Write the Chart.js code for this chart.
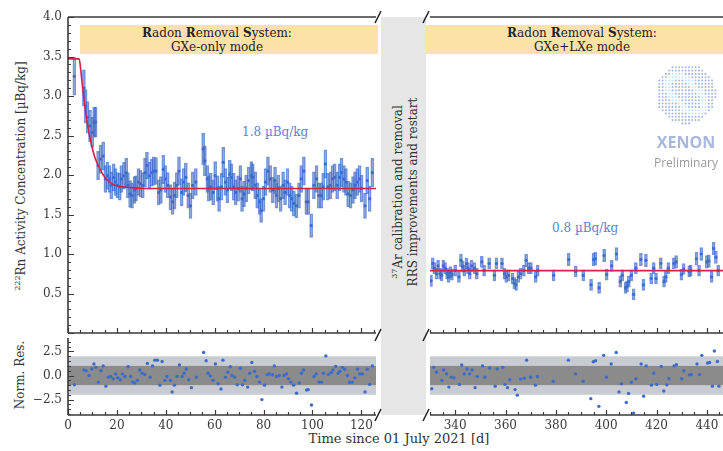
<!DOCTYPE html>
<html>
<head>
<meta charset="utf-8">
<script src="https://cdn.jsdelivr.net/npm/chart.js@4.4.0/dist/chart.umd.min.js"></script>
<style>
  body { margin: 0; background: #fff; width: 723px; height: 451px; overflow: hidden; position: relative; font-family: 'DejaVu Serif', serif; color: #333; }
  canvas { position: absolute; }
  .abs { position: absolute; white-space: nowrap; }
  .banner { position: absolute; background: #fde2a6; height: 29px; top: 25px; }
  .btxt { position: absolute; transform: translateX(-50%); text-align: center; font-size: 12px; line-height: 13.5px; top: 27px; color: #222; white-space: nowrap; }
  .rot { position: absolute; transform: translate(-50%, -50%) rotate(-90deg); white-space: nowrap; }
  sup { font-size: 8px; vertical-align: 5px; }
</style>
</head>
<body>
<div class="banner" style="left:80px;width:298px"></div>
<div class="banner" style="left:426px;width:297px"></div>
<div class="btxt" style="left:217px"><b>R</b>adon <b>R</b>emoval <b>S</b>ystem:<br>GXe-only mode</div>
<div class="btxt" style="left:582px"><b>R</b>adon <b>R</b>emoval <b>S</b>ystem:<br>GXe+LXe mode</div>
<div class="abs" style="left:381px;top:17px;width:45px;height:398px;background:#e6e6e6"></div>
<div class="rot" style="left:404px;top:192px;font-size:12px;line-height:15px;text-align:center;color:#333"><sup>37</sup>Ar calibration and removal<br>RRS improvements and restart</div>
<div class="rot" style="left:20px;top:176px;font-size:12px"><sup>222</sup>Rn Activity Concentration [µBq/kg]</div>
<div class="rot" style="left:20px;top:375px;font-size:12px">Norm. Res.</div>
<div class="abs" style="left:399px;top:431px;transform:translateX(-50%);font-size:13px">Time since 01 July 2021 [d]</div>
<div class="abs" style="left:242px;top:125px;font-size:12px;color:#5b82d4">1.8 µBq/kg</div>
<div class="abs" style="left:552px;top:221px;font-size:12px;color:#5b82d4">0.8 µBq/kg</div>

<canvas id="topLeft" width="380" height="337" style="left:0;top:0"></canvas>
<canvas id="topRight" width="310" height="337" style="left:426px;top:0"></canvas>
<canvas id="resLeft" width="380" height="117" style="left:0;top:334px"></canvas>
<canvas id="resRight" width="310" height="117" style="left:426px;top:334px"></canvas>
<canvas id="deco" width="723" height="451" style="left:0;top:0;pointer-events:none"></canvas>

<script>
// ---- GXe-only period (days 0-126) ----
const leftDays = [
  2.6, 6.5, 7.2, 8.0, 9.0, 9.9, 10.7, 11.3, 12.3, 13.3,
  14.4, 15.3, 16.1, 17.0, 17.7, 18.7, 19.4, 20.2, 21.2, 21.8,
  22.9, 23.8, 24.5, 25.4, 26.2, 27.2, 27.8, 28.8, 29.6, 30.6,
  31.5, 32.3, 33.3, 34.3, 35.1, 36.0, 37.1, 38.0, 39.0, 39.8,
  40.8, 41.9, 42.8, 43.6, 44.5, 45.4, 46.5, 47.3, 48.2, 49.2,
  50.1, 51.0, 52.3, 55.3, 56.0, 57.0, 57.6, 58.4, 59.4, 60.2,
  61.2, 61.8, 62.8, 63.5, 64.4, 65.2, 66.2, 66.8, 67.8, 68.6,
  69.6, 70.5, 71.2, 72.0, 72.9, 73.9, 75.0, 75.6, 76.6, 77.4,
  78.4, 79.0, 80.0, 80.8, 81.8, 82.7, 83.8, 84.7, 85.3, 86.1,
  87.0, 88.0, 88.8, 89.8, 90.7, 91.5, 92.4, 93.4, 94.5, 95.4,
  96.5, 97.5, 98.3, 99.5, 100.6, 101.7, 102.6, 103.6, 104.4, 105.3,
  106.3, 107.4, 108.2, 109.1, 110.1, 111.1, 111.9, 112.9, 113.7, 114.6,
  115.6, 116.6, 117.4, 118.3, 119.3, 120.1, 121.5, 122.4, 123.4, 124.5
];
const leftRn = [
  3.25, 3.10, 2.87, 2.73, 2.62, 2.54, 2.67, 2.67, 2.12, 2.20,
  2.24, 1.95, 1.99, 1.95, 1.87, 1.97, 1.91, 1.87, 1.85, 1.95,
  1.99, 2.03, 1.87, 1.76, 1.74, 1.81, 1.83, 1.91, 1.89, 1.87,
  2.03, 2.12, 1.99, 2.03, 2.05, 2.05, 1.78, 1.81, 2.07, 1.95,
  1.87, 1.72, 1.66, 1.74, 1.87, 2.05, 1.78, 1.91, 1.97, 1.74,
  1.61, 1.87, 1.91, 2.33, 2.18, 1.95, 1.83, 1.85, 1.78, 1.99,
  1.83, 1.70, 1.85, 2.16, 1.91, 1.81, 2.01, 1.97, 1.85, 1.78,
  1.83, 1.95, 1.70, 1.76, 1.83, 1.93, 1.99, 1.97, 1.87, 1.74,
  1.66, 1.55, 1.70, 1.91, 2.05, 1.95, 1.81, 1.93, 1.74, 1.83,
  1.70, 1.87, 1.78, 1.91, 1.74, 1.70, 1.64, 1.61, 1.74, 1.95,
  2.05, 1.66, 1.66, 1.36, 1.87, 1.95, 1.74, 1.74, 1.85, 2.14,
  1.85, 1.87, 1.95, 1.97, 1.87, 1.97, 2.03, 1.95, 1.91, 1.76,
  1.74, 1.81, 1.87, 1.91, 1.95, 1.83, 1.61, 1.93, 1.70, 2.03
];
const leftErr = [
  0.24, 0.23, 0.21, 0.20, 0.20, 0.19, 0.19, 0.19, 0.18, 0.18,
  0.18, 0.17, 0.17, 0.17, 0.17, 0.17, 0.17, 0.16, 0.17, 0.17,
  0.17, 0.18, 0.16, 0.17, 0.16, 0.17, 0.16, 0.17, 0.17, 0.16,
  0.18, 0.17, 0.17, 0.17, 0.18, 0.17, 0.16, 0.17, 0.18, 0.17,
  0.16, 0.16, 0.16, 0.17, 0.16, 0.18, 0.17, 0.17, 0.18, 0.16,
  0.16, 0.17, 0.17, 0.20, 0.19, 0.17, 0.16, 0.17, 0.16, 0.18,
  0.16, 0.16, 0.17, 0.19, 0.17, 0.16, 0.18, 0.17, 0.17, 0.16,
  0.16, 0.17, 0.16, 0.16, 0.17, 0.17, 0.18, 0.17, 0.17, 0.16,
  0.16, 0.15, 0.16, 0.17, 0.18, 0.17, 0.16, 0.17, 0.16, 0.17,
  0.16, 0.17, 0.16, 0.17, 0.16, 0.16, 0.16, 0.15, 0.16, 0.17,
  0.18, 0.16, 0.16, 0.15, 0.17, 0.17, 0.16, 0.16, 0.17, 0.18,
  0.17, 0.17, 0.17, 0.17, 0.17, 0.17, 0.18, 0.17, 0.17, 0.16,
  0.16, 0.17, 0.17, 0.17, 0.17, 0.17, 0.16, 0.17, 0.16, 0.18
];
// fitted model: plateau, fast drop, then 1.8 µBq/kg equilibrium
const leftFit = [
  [0, 3.47], [4.6, 3.47], [5.2, 3.33], [6.0, 3.10], [6.9, 2.87], [8.3, 2.58],
  [9.7, 2.37], [11.0, 2.22], [12.4, 2.12], [13.7, 2.04], [15.1, 1.97], [17.0, 1.91],
  [19.2, 1.87], [22.0, 1.85], [25.9, 1.84], [32.0, 1.83], [126, 1.83]
];
const leftResDays = [
  2.6, 6.5, 7.4, 8.6, 9.7, 10.6, 11.4, 12.4, 13.5, 14.4,
  15.5, 16.5, 17.4, 18.5, 19.5, 20.3, 21.4, 22.2, 23.3, 24.6,
  25.6, 26.5, 27.3, 28.4, 29.4, 30.3, 31.4, 32.5, 33.6, 34.6,
  35.5, 36.6, 37.6, 38.5, 39.6, 40.5, 41.9, 42.6, 43.5, 44.6,
  45.6, 46.7, 47.5, 48.4, 49.4, 50.5, 52.5, 55.5, 56.5, 57.3,
  58.2, 59.3, 60.3, 61.4, 62.6, 63.4, 64.4, 65.4, 66.4, 67.1,
  68.2, 69.2, 70.5, 71.4, 72.3, 73.5, 74.3, 75.2, 76.3, 77.3,
  78.4, 79.3, 80.4, 81.5, 82.4, 83.7, 84.4, 85.3, 86.4, 87.5,
  88.4, 89.4, 90.2, 91.2, 92.3, 93.5, 94.6, 95.5, 96.3, 97.6,
  98.3, 99.6, 100.6, 101.5, 102.7, 103.7, 104.5, 105.5, 106.5, 107.6,
  108.4, 109.5, 110.5, 111.3, 112.2, 113.2, 114.3, 115.2, 116.3, 117.3,
  118.4, 119.3, 120.4, 121.5, 122.4, 123.4, 124.5
];
const leftRes = [
  -0.95, 0.58, 0.50, 0.00, 0.68, 1.20, 0.85, -0.68, 0.50, 1.00,
  -1.10, -0.17, -0.10, -0.34, 0.17, -0.24, -0.44, 0.17, -0.10, 0.92,
  -0.10, -0.68, -0.78, -0.50, 0.58, 0.24, 0.10, 1.26, -0.17, 1.00,
  1.60, 1.60, -1.00, 1.46, -0.50, -0.10, -0.50, -1.70, -1.00, -0.10,
  1.10, -0.10, 0.24, 0.68, -0.44, -1.26, -0.17, 2.40, 1.53, 0.24,
  -0.03, -0.50, 1.20, -0.85, -1.40, 1.60, -0.17, 0.34, 0.92, 0.00,
  -0.17, -0.95, 0.75, -0.95, -0.50, -1.20, 0.24, 1.36, 0.44, -0.10,
  -0.68, -2.50, -1.00, 0.10, 0.17, 0.10, 1.00, -0.10, 0.00, -1.20,
  0.00, 0.17, -0.34, -0.68, -1.00, -1.84, -0.78, 0.24, 0.58, -1.50,
  -1.46, -3.06, -0.10, 0.17, -0.68, -0.68, 0.24, 2.04, 0.10, 0.30,
  0.58, 0.95, 0.24, 0.44, 0.85, 0.65, 0.00, -0.70, -0.68, -0.24,
  0.65, 0.17, 0.17, -1.70, 0.65, -0.92, 1.00
];

// ---- GXe+LXe period (days 330-450) ----
const rightDays = [
  330.4, 331.1, 331.7, 332.6, 333.2, 334.0, 334.6, 335.3, 336.0, 336.8,
  337.4, 338.1, 338.7, 340.0, 341.5, 342.3, 343.0, 343.6, 344.5, 345.1,
  345.8, 346.5, 347.7, 348.6, 350.6, 351.5, 353.5, 355.6, 356.4, 358.6,
  359.6, 360.3, 361.2, 362.8, 363.5, 364.2, 365.1, 366.0, 367.3, 368.2,
  369.2, 370.1, 372.0, 372.8, 379.1, 385.1, 387.9, 390.9, 394.0, 395.0,
  395.7, 397.2, 399.2, 400.2, 402.2, 404.1, 405.6, 406.4, 407.7, 408.3,
  409.0, 410.0, 410.9, 411.8, 413.8, 414.8, 415.8, 417.9, 418.9, 419.8,
  421.7, 423.0, 423.7, 424.7, 426.9, 427.8, 429.9, 430.8, 433.0, 433.6,
  435.9, 436.9, 437.8, 440.0, 440.8, 441.9, 442.7, 443.6, 444.5
];
const rightRn = [
  0.66, 0.88, 0.82, 0.75, 0.85, 0.75, 0.73, 0.85, 0.82, 0.75,
  0.71, 0.77, 0.74, 0.79, 0.71, 0.92, 0.84, 0.79, 0.88, 0.82,
  0.75, 0.85, 0.82, 0.75, 0.90, 0.79, 0.88, 0.73, 0.88, 0.88,
  0.75, 0.71, 0.73, 0.69, 0.63, 0.61, 0.71, 0.75, 0.79, 0.92,
  0.82, 0.82, 0.71, 0.79, 0.73, 0.93, 0.78, 0.73, 0.61, 0.93,
  0.94, 0.57, 0.98, 0.74, 0.85, 1.00, 0.65, 0.73, 0.57, 0.59,
  0.65, 0.73, 0.49, 0.82, 0.93, 0.61, 0.92, 0.69, 0.82, 0.69,
  0.88, 0.65, 0.71, 0.82, 0.88, 0.90, 0.74, 0.81, 0.78, 0.79,
  0.94, 0.79, 1.00, 0.90, 0.91, 0.71, 1.07, 0.96, 0.79
];
const rightErr = [
  0.07, 0.07, 0.07, 0.07, 0.07, 0.07, 0.07, 0.07, 0.07, 0.07,
  0.07, 0.07, 0.07, 0.07, 0.07, 0.08, 0.07, 0.07, 0.07, 0.07,
  0.07, 0.07, 0.07, 0.07, 0.07, 0.07, 0.07, 0.07, 0.07, 0.07,
  0.07, 0.07, 0.07, 0.07, 0.07, 0.07, 0.07, 0.07, 0.07, 0.08,
  0.07, 0.07, 0.07, 0.07, 0.07, 0.08, 0.07, 0.07, 0.07, 0.08,
  0.08, 0.07, 0.08, 0.07, 0.07, 0.08, 0.07, 0.07, 0.07, 0.07,
  0.07, 0.07, 0.07, 0.07, 0.08, 0.07, 0.08, 0.07, 0.07, 0.07,
  0.07, 0.07, 0.07, 0.07, 0.07, 0.08, 0.07, 0.07, 0.07, 0.07,
  0.08, 0.07, 0.08, 0.08, 0.08, 0.07, 0.08, 0.08, 0.07
];
const rightFit = [[330, 0.79], [450, 0.79]];
const rightResDays = [
  330.7, 331.4, 332.6, 334.7, 335.4, 336.6, 337.5, 338.4, 339.5, 341.7,
  342.6, 343.6, 344.7, 345.7, 346.7, 347.9, 348.8, 350.9, 351.8, 353.7,
  355.9, 356.7, 358.9, 359.8, 360.8, 361.7, 363.8, 364.7, 366.0, 367.5,
  368.4, 370.0, 371.9, 372.7, 379.0, 385.0, 387.8, 390.8, 393.9, 394.9,
  395.8, 397.1, 399.0, 400.1, 402.0, 404.0, 405.1, 406.1, 408.0, 408.9,
  410.0, 410.9, 411.8, 413.9, 414.9, 415.9, 418.0, 418.9, 420.1, 421.9,
  422.9, 424.1, 424.9, 427.0, 427.9, 430.0, 430.9, 433.1, 433.8, 436.1,
  437.1, 438.0, 440.3, 441.1, 442.2, 443.0, 444.2, 444.8
];
const rightRes = [
  -1.36, 0.85, 0.34, -0.50, 0.58, 0.17, -1.20, -0.17, -0.24, -0.92,
  1.10, 0.17, 0.68, 0.17, 0.58, -1.26, -0.10, 1.00, -0.17, 0.78,
  -1.10, 0.68, 0.85, -0.92, -1.26, -0.44, -1.46, -2.04, -0.37, -0.27,
  1.60, -0.17, -1.00, -0.10, -0.60, 1.60, 0.17, -0.60, -2.40, 1.43,
  1.53, -3.20, 2.10, -0.17, 1.20, 2.40, -1.70, -0.85, -2.80, -1.87,
  -0.68, -3.90, -0.34, 1.20, -2.14, 1.00, -1.00, 0.24, -0.92, 0.95,
  -1.60, -0.95, -0.34, 1.00, 1.12, -0.34, 0.50, 0.07, 0.10, 1.20,
  0.10, 2.10, 1.30, 1.36, -1.10, 2.55, 1.46, -1.10
];

// axis ticks
const topYTicks = [0.5, 1.0, 1.5, 2.0, 2.5, 3.0, 3.5, 4.0];
const resYTicks = [-2.5, 0, 2.5];
const leftXTicks = [0, 20, 40, 60, 80, 100, 120];
const rightXTicks = [340, 360, 380, 400, 420, 440];
const sigmaBands = [[-2, 2, '#c8ccd2'], [-1, 1, '#8b8b8b']];

const BLUE = '#3d6bc9';
const RED = '#d91f4b';
const AXIS = '#3a3a3a';

Chart.defaults.font.family = "'DejaVu Serif', serif";
Chart.defaults.font.size = 12;
Chart.defaults.color = '#3a3a3a';
Chart.defaults.animation = false;
Chart.defaults.plugins.legend.display = false;
Chart.defaults.plugins.tooltip.enabled = false;

// frame edges, inward ticks and the ±1σ/±2σ residual bands
const framePlugin = {
  id: 'frame',
  beforeDatasetsDraw(chart, args, o) {
    if (!o.bands) return;
    const { ctx, chartArea: a, scales: { y } } = chart;
    ctx.save();
    o.bands.forEach(([lo, hi, col]) => {
      const t = y.getPixelForValue(hi), b = y.getPixelForValue(lo);
      ctx.fillStyle = col;
      ctx.fillRect(a.left, t, a.right - a.left, b - t);
    });
    ctx.restore();
  },
  afterDraw(chart, args, o) {
    const { ctx, chartArea: a, scales: { x, y } } = chart;
    ctx.save();
    ctx.strokeStyle = AXIS;
    ctx.lineWidth = 1.2;
    ctx.beginPath();
    for (let v = Math.ceil(x.min / 5) * 5; v <= x.max; v += 5) {
      const px = Math.round(x.getPixelForValue(v)) + 0.5;
      const len = v % 20 === 0 ? 5 : 3;
      ctx.moveTo(px, a.bottom); ctx.lineTo(px, a.bottom - len);
    }
    if (o.left) {
      const n = Math.round((y.max - y.min) / o.yMinor);
      for (let i = 0; i <= n; i++) {
        const v = +(Math.ceil(y.min / o.yMinor) * o.yMinor + i * o.yMinor).toFixed(3);
        if (v > y.max) break;
        const py = Math.round(y.getPixelForValue(v)) + 0.5;
        const major = Math.abs(v / o.yMajor - Math.round(v / o.yMajor)) < 1e-6;
        ctx.moveTo(a.left, py); ctx.lineTo(a.left + (major ? 6 : 3), py);
      }
    }
    ctx.stroke();
    ctx.lineWidth = 1.6;
    ctx.beginPath();
    if (o.top) { ctx.moveTo(a.left, a.top); ctx.lineTo(a.right, a.top); }
    if (o.left) { ctx.moveTo(a.left, a.top); ctx.lineTo(a.left, a.bottom); }
    ctx.moveTo(a.left, a.bottom); ctx.lineTo(a.right, a.bottom);
    ctx.stroke();
    ctx.restore();
  }
};

function topSets(days, rn, err, fit) {
  return [
    { type: 'line', data: fit.map(p => ({ x: p[0], y: p[1] })), borderColor: RED, borderWidth: 1.6,
      pointRadius: 0, cubicInterpolationMode: 'monotone', fill: false },
    { type: 'scatter', data: days.map((d, i) => ({ x: d, y: rn[i] })), pointRadius: 1.6,
      backgroundColor: BLUE, borderWidth: 0 },
    { type: 'bar', data: days.map((d, i) => ({ x: d, y: [rn[i] - err[i], rn[i] + err[i]] })),
      backgroundColor: 'rgba(61,107,201,0.22)', borderColor: 'rgba(61,107,201,0.7)', borderWidth: 1,
      borderSkipped: false, barThickness: 3, grouped: false }
  ];
}

function resSets(days, res) {
  return [{ type: 'scatter', data: days.map((d, i) => ({ x: d, y: res[i] })), pointRadius: 1.7,
    backgroundColor: BLUE, borderWidth: 0 }];
}

const noGrid = { display: false, drawTicks: false };
const setTicks = list => s => { s.ticks = list.map(v => ({ value: v })); };

function yAxis(min, max, ticks, fmt, shown) {
  return {
    type: 'linear', min, max, display: shown,
    grid: noGrid, border: { display: false },
    afterBuildTicks: setTicks(ticks),
    afterFit: s => { s.width = shown ? 68 : 0; s.paddingTop = 0; s.paddingBottom = 0; },
    ticks: { padding: 6, callback: fmt }
  };
}

function xAxis(min, max, ticks, shown) {
  return {
    type: 'linear', min, max, offset: false, display: shown,
    grid: noGrid, border: { display: false },
    afterBuildTicks: setTicks(ticks),
    afterFit: s => { s.height = shown ? 36 : 0; s.paddingLeft = 0; s.paddingRight = 0; },
    ticks: { padding: 4, autoSkip: false, maxRotation: 0, callback: v => String(v) }
  };
}

const fmt1 = v => v.toFixed(1);
const fmtRes = v => (v < 0 ? '\u2212' : '') + Math.abs(v).toFixed(1);

new Chart(document.getElementById('topLeft'), {
  type: 'bar',
  data: { datasets: topSets(leftDays, leftRn, leftErr, leftFit) },
  options: {
    responsive: false, layout: { padding: { left: 0, right: 2, top: 17, bottom: 2 } },
    scales: { x: xAxis(0, 126, leftXTicks, false), y: yAxis(0, 4, topYTicks, fmt1, true) },
    plugins: { frame: { top: true, left: true, yMajor: 0.5, yMinor: 0.1 } }
  },
  plugins: [framePlugin]
});

new Chart(document.getElementById('topRight'), {
  type: 'bar',
  data: { datasets: topSets(rightDays, rightRn, rightErr, rightFit) },
  options: {
    responsive: false, layout: { padding: { left: 0, right: 0, top: 17, bottom: 2 } },
    scales: { x: xAxis(330, 450, rightXTicks, false), y: yAxis(0, 4, topYTicks, fmt1, false) },
    plugins: { frame: { top: true, left: false } }
  },
  plugins: [framePlugin]
});

new Chart(document.getElementById('resLeft'), {
  type: 'scatter',
  data: { datasets: resSets(leftResDays, leftRes) },
  options: {
    responsive: false, layout: { padding: { left: 0, right: 2, top: 2, bottom: 0 } },
    scales: { x: xAxis(0, 126, leftXTicks, true), y: yAxis(-4.1, 3.9, resYTicks, fmtRes, true) },
    plugins: { frame: { left: true, yMajor: 2.5, yMinor: 0.5, bands: sigmaBands } }
  },
  plugins: [framePlugin]
});

new Chart(document.getElementById('resRight'), {
  type: 'scatter',
  data: { datasets: resSets(rightResDays, rightRes) },
  options: {
    responsive: false, layout: { padding: { left: 0, right: 0, top: 2, bottom: 0 } },
    scales: { x: xAxis(330, 450, rightXTicks, true), y: yAxis(-4.1, 3.9, resYTicks, fmtRes, false) },
    plugins: { frame: { left: false, bands: sigmaBands } }
  },
  plugins: [framePlugin]
});

// axis-break slashes and the collaboration mark
const deco = document.getElementById('deco').getContext('2d');
deco.strokeStyle = '#222';
deco.lineWidth = 1.5;
[[378, 17], [426, 17], [378, 335], [426, 335], [378, 415], [426, 415]].forEach(([bx, by]) => {
  deco.beginPath();
  deco.moveTo(bx - 3, by + 6);
  deco.lineTo(bx + 3, by - 6);
  deco.stroke();
});

const cx = 686, cy = 94, r = 30;
for (let gx = -r; gx <= r; gx += 3.3) {
  for (let gy = -r; gy <= r; gy += 3.3) {
    const d = Math.hypot(gx, gy);
    if (d > r) continue;
    const ang = Math.atan2(gy, gx);
    const swirl = Math.abs(d - 16 - 6 * Math.sin(ang * 2)) < 3.5;
    deco.fillStyle = swirl ? '#c9e7f4' : '#a9bbe0';
    deco.beginPath();
    deco.arc(cx + gx, cy + gy, 1.05, 0, Math.PI * 2);
    deco.fill();
  }
}
deco.textAlign = 'center';
deco.fillStyle = '#a8b7df';
deco.font = "bold 16px 'Open Sans', sans-serif";
deco.fillText('XENON', cx, 148);
deco.fillStyle = '#9a9a9a';
deco.font = "12px 'Open Sans', sans-serif";
deco.fillText('Preliminary', cx, 167);
</script>
</body>
</html>
